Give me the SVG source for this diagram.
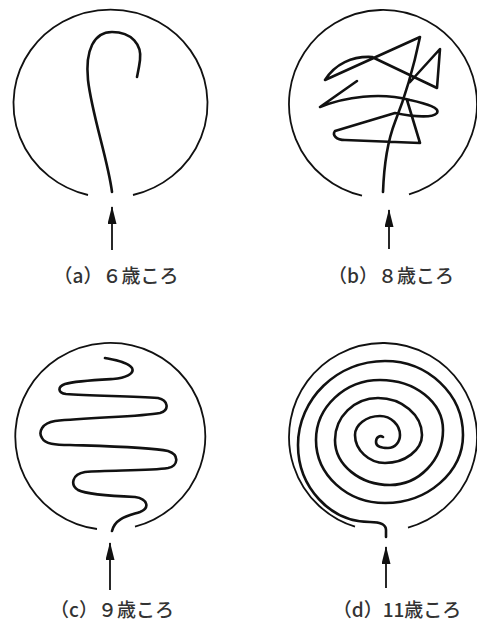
<svg xmlns="http://www.w3.org/2000/svg" width="477" height="628" viewBox="0 0 477 628">
<defs>
<style>
.rim{fill:none;stroke:#111;stroke-width:1.8}
.draw{fill:none;stroke:#111;stroke-width:2.6;stroke-linecap:round;stroke-linejoin:round}
.arr{stroke:#111;stroke-width:1.8;fill:none}
.lbl{font-family:"Noto Sans CJK JP","Noto Sans",sans-serif;font-size:19px;font-weight:500;fill:#333;text-anchor:middle}
</style>
<marker id="head" viewBox="0 0 18 9" refX="17" refY="4.5" markerWidth="18" markerHeight="9" markerUnits="userSpaceOnUse" orient="auto">
<path d="M0,0 L18,4.5 L0,9 Z" fill="#111"/>
</marker>
</defs>
<rect width="477" height="628" fill="#fff"/>

<g id="panel-a">
<path class="rim" d="M88,195 A97,94 0 1 1 133,195"/>
<path class="draw" d="M112,192 C108,160 92,115 88,80 C85,50 94,32 112,32 C132,32 142,45 140,60 C139,68 138,72 137,77"/>
<text class="lbl" x="116" y="283">（a）６歳ころ</text>
</g>

<g id="panel-b">
<path class="rim" d="M362,195.6 A94,94 0 1 1 409,194.3"/>
<path class="draw" d="M383,192 C384,165 388,140 395,122 C403,102 412,75 420,37 L325,80 C335,64 352,56 372,57 L437,88 L440,49 L410,82 M357,81 L320,107 C345,97 380,92 410,100 C428,104 440,108 437,113 C433,118 415,117 395,113 L335,131 C332,135 336,140 345,140 L420,143 L407,100"/>
<text class="lbl" x="391" y="283">（b）８歳ころ</text>
</g>

<g id="panel-c">
<path class="rim" d="M97,529 A95,93.5 0 1 1 135,526.7"/>
<path class="draw" d="M105,358 C115,360 128,362 132,368 C135,374 125,378 113,379 C95,380 75,381 65,384 C57,387 58,393 66,394 C90,396 130,396 158,398 C168,400 170,410 160,413 C140,417 90,417 55,421 C42,423 38,432 42,438 C45,444 55,445 70,445 C100,446 150,447 168,451 C180,455 178,466 168,468 C150,471 110,470 85,472 C72,474 70,485 78,490 C86,494 110,496 135,497 C148,499 150,508 140,512 C128,516 115,518 112,531"/>
<text class="lbl" x="112" y="617">（c）９歳ころ</text>
</g>

<g id="panel-d">
<path class="rim" d="M355,526.7 A94,94 0 1 1 408,527.6"/>
<path class="draw" d="M386,537 L386,530 C386,524 380,522 370,522 C330,522 298,487 298,445 C298,399 337,361 385,361 C428,361 463,394 463,435 C463,472 428,503 385,503 C347,503 316,475 316,440 C316,407 345,380 380,380 C415,380 443,402 443,430 C443,460 419,485 390,485 C360,485 335,465 335,440 C335,417 354,398 378,398 C402,398 422,415 422,435 C422,450 405,463 385,463 C369,463 355,450 355,435 C355,425 366,416 380,416 C391,416 400,425 400,435 C400,442 395,448 388,448 C382,448 376,447 376,442 C376,437 380,435 383,437"/>
<text class="lbl" x="397" y="617">（d）11歳ころ</text>
</g>

<g id="connectors">
<line class="arr" x1="112" y1="250" x2="112" y2="207" marker-end="url(#head)"/>
<line class="arr" x1="389" y1="249" x2="389" y2="210" marker-end="url(#head)"/>
<line class="arr" x1="110" y1="590" x2="110" y2="543" marker-end="url(#head)"/>
<line class="arr" x1="386" y1="588" x2="386" y2="547" marker-end="url(#head)"/>
</g>
</svg>
